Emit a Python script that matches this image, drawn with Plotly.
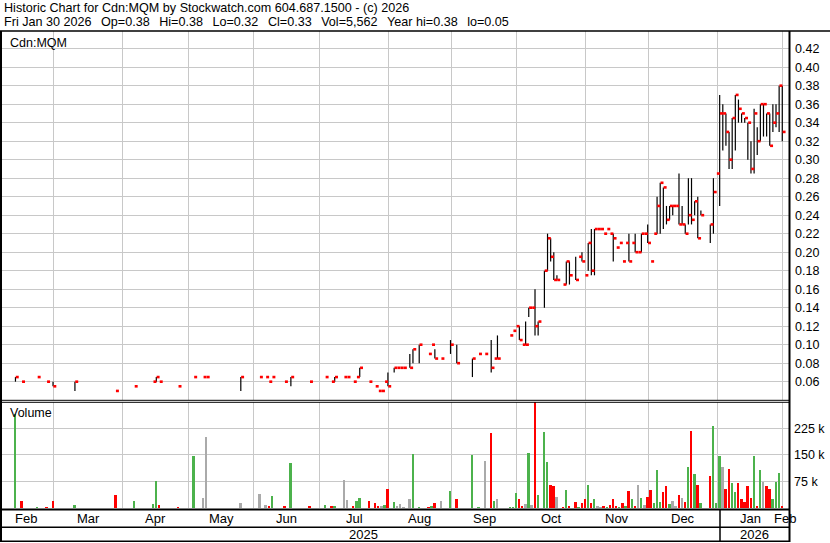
import numpy as np
import plotly.graph_objects as go

# ---------------- data ----------------
dates = [
    "2025-02-10", "2025-02-12", "2025-02-20", "2025-02-25", "2025-02-27",
    "2025-03-10", "2025-03-27",
    "2025-04-04", "2025-04-14", "2025-04-15", "2025-04-16", "2025-04-25",
    "2025-05-02", "2025-05-07", "2025-05-08", "2025-05-26",
    "2025-06-03", "2025-06-05", "2025-06-06", "2025-06-09", "2025-06-13", "2025-06-17", "2025-06-25",
    "2025-07-03", "2025-07-07", "2025-07-08", "2025-07-11", "2025-07-14", "2025-07-16", "2025-07-17",
    "2025-07-18", "2025-07-23", "2025-07-25", "2025-07-28", "2025-07-29", "2025-07-30", "2025-07-31",
    "2025-08-05", "2025-08-06", "2025-08-07", "2025-08-08", "2025-08-12", "2025-08-13", "2025-08-15",
    "2025-08-20", "2025-08-21", "2025-08-22", "2025-08-26", "2025-08-29",
    "2025-09-03", "2025-09-10", "2025-09-12", "2025-09-16", "2025-09-18", "2025-09-19", "2025-09-22",
    "2025-09-26", "2025-09-29", "2025-09-30",
    "2025-10-01", "2025-10-02", "2025-10-03", "2025-10-06", "2025-10-07", "2025-10-08", "2025-10-09",
    "2025-10-14", "2025-10-15", "2025-10-16", "2025-10-17", "2025-10-20", "2025-10-22", "2025-10-23",
    "2025-10-24", "2025-10-28", "2025-10-29", "2025-10-30", "2025-10-31",
    "2025-11-03", "2025-11-04", "2025-11-05", "2025-11-06", "2025-11-07", "2025-11-10", "2025-11-11",
    "2025-11-12", "2025-11-13", "2025-11-14", "2025-11-17", "2025-11-18", "2025-11-19", "2025-11-20",
    "2025-11-21", "2025-11-24", "2025-11-25", "2025-11-26", "2025-11-27", "2025-11-28",
    "2025-12-01", "2025-12-02", "2025-12-03", "2025-12-04", "2025-12-05", "2025-12-08", "2025-12-09",
    "2025-12-10", "2025-12-11", "2025-12-12", "2025-12-15", "2025-12-16", "2025-12-17", "2025-12-18",
    "2025-12-19", "2025-12-22", "2025-12-23", "2025-12-29", "2025-12-30", "2025-12-31",
    "2026-01-02", "2026-01-05", "2026-01-06", "2026-01-07", "2026-01-08", "2026-01-09", "2026-01-12",
    "2026-01-13", "2026-01-14", "2026-01-15", "2026-01-16", "2026-01-19", "2026-01-20", "2026-01-21",
    "2026-01-22", "2026-01-23", "2026-01-26", "2026-01-27", "2026-01-28", "2026-01-29", "2026-01-30",
]

high = [
    0.065, 0.06, 0.065, 0.06, 0.06,
    0.06, 0.05,
    0.055, 0.06, 0.065, 0.06, 0.055,
    0.065, 0.065, 0.065, 0.065,
    0.065, 0.065, 0.06, 0.065, 0.06, 0.065, 0.06,
    0.065, 0.06, 0.065, 0.065, 0.065, 0.06, 0.065,
    0.075, 0.06, 0.055, 0.05, 0.05, 0.06, 0.07,
    0.075, 0.075, 0.075, 0.075, 0.09, 0.095, 0.10,
    0.09, 0.10, 0.095, 0.085, 0.105,
    0.10, 0.085, 0.09, 0.09, 0.105, 0.085, 0.11,
    0.11, 0.115, 0.12,
    0.12, 0.10, 0.125, 0.14, 0.14, 0.16, 0.125,
    0.18, 0.22, 0.215, 0.20, 0.175, 0.165, 0.19,
    0.19, 0.195, 0.195, 0.20, 0.175,
    0.21, 0.225, 0.225, 0.225, 0.225, 0.22, 0.225,
    0.22, 0.22, 0.205, 0.21, 0.19, 0.21, 0.22,
    0.21, 0.22, 0.20, 0.22, 0.22, 0.23,
    0.19, 0.22, 0.26, 0.275, 0.27, 0.25, 0.25,
    0.25, 0.25, 0.285, 0.25, 0.23, 0.28, 0.28,
    0.255, 0.26, 0.245, 0.23, 0.28, 0.285,
    0.37, 0.36, 0.35, 0.33, 0.345, 0.37, 0.365,
    0.35, 0.345, 0.34, 0.32, 0.355, 0.335, 0.36,
    0.36, 0.35, 0.35, 0.36, 0.36, 0.38, 0.38,
]

low = [
    0.06, 0.06, 0.065, 0.06, 0.055,
    0.05, 0.05,
    0.055, 0.06, 0.06, 0.06, 0.055,
    0.065, 0.065, 0.065, 0.05,
    0.065, 0.065, 0.06, 0.065, 0.06, 0.055, 0.06,
    0.065, 0.06, 0.06, 0.065, 0.065, 0.06, 0.065,
    0.065, 0.06, 0.055, 0.05, 0.05, 0.06, 0.055,
    0.07, 0.075, 0.075, 0.075, 0.075, 0.08, 0.08,
    0.09, 0.10, 0.085, 0.085, 0.09,
    0.08, 0.065, 0.09, 0.09, 0.07, 0.085, 0.085,
    0.11, 0.115, 0.12,
    0.105, 0.10, 0.10, 0.13, 0.14, 0.11, 0.11,
    0.14, 0.18, 0.19, 0.17, 0.17, 0.165, 0.165,
    0.165, 0.17, 0.195, 0.19, 0.175,
    0.18, 0.175, 0.175, 0.225, 0.225, 0.22, 0.225,
    0.22, 0.19, 0.205, 0.21, 0.19, 0.21, 0.19,
    0.21, 0.20, 0.20, 0.20, 0.22, 0.21,
    0.19, 0.22, 0.22, 0.22, 0.225, 0.23, 0.235,
    0.24, 0.25, 0.23, 0.23, 0.22, 0.23, 0.23,
    0.24, 0.215, 0.24, 0.21, 0.22, 0.285,
    0.25, 0.31, 0.315, 0.29, 0.29, 0.31, 0.34,
    0.34, 0.34, 0.30, 0.285, 0.285, 0.305, 0.32,
    0.325, 0.325, 0.315, 0.33, 0.335, 0.33, 0.32,
]

close = [
    0.065, 0.06, 0.065, 0.06, 0.055,
    0.06, 0.05,
    0.055, 0.06, 0.065, 0.06, 0.055,
    0.065, 0.065, 0.065, 0.065,
    0.065, 0.065, 0.06, 0.065, 0.06, 0.065, 0.06,
    0.065, 0.06, 0.065, 0.065, 0.065, 0.06, 0.065,
    0.075, 0.06, 0.055, 0.05, 0.05, 0.06, 0.055,
    0.075, 0.075, 0.075, 0.075, 0.075, 0.095, 0.10,
    0.09, 0.10, 0.085, 0.085, 0.10,
    0.08, 0.085, 0.09, 0.09, 0.075, 0.085, 0.085,
    0.11, 0.115, 0.12,
    0.105, 0.10, 0.10, 0.14, 0.14, 0.12, 0.125,
    0.18, 0.215, 0.195, 0.17, 0.17, 0.165, 0.19,
    0.175, 0.17, 0.195, 0.19, 0.175,
    0.21, 0.18, 0.225, 0.225, 0.225, 0.22, 0.225,
    0.22, 0.215, 0.205, 0.21, 0.19, 0.21, 0.19,
    0.21, 0.20, 0.20, 0.22, 0.22, 0.21,
    0.19, 0.22, 0.25, 0.275, 0.27, 0.235, 0.25,
    0.25, 0.25, 0.23, 0.23, 0.22, 0.24, 0.235,
    0.255, 0.215, 0.24, 0.23, 0.265, 0.285,
    0.35, 0.35, 0.33, 0.30, 0.345, 0.37, 0.355,
    0.35, 0.345, 0.34, 0.29, 0.35, 0.32, 0.36,
    0.36, 0.35, 0.315, 0.34, 0.35, 0.38, 0.33,
]

volume = [
    265000, 20600, 2000, 2000, 20000,
    9400, 35600,
    20600, 12000, 77000, 9400, 2000,
    147000, 29000, 200000, 15000,
    40000, 9400, 3700, 34700, 3700, 127500, 3700,
    9400, 3700, 3700, 80000, 23000, 6500, 20600,
    29000, 20600, 15000, 3700, 3700, 9400, 54000,
    17800, 6500, 12000, 1000, 26000, 153000, 2800,
    2800, 5600, 15000, 20600, 48700,
    26000, 150000, 1000, 133000, 212000, 20600, 26000,
    1500, 1500, 41000,
    25000, 5000, 12500, 154000, 9600, 320000, 38000,
    214000, 131000, 64000, 61500, 30000, 2000, 50000,
    6700, 18000, 2000, 15000, 24000,
    64000, 15000, 24000, 6700, 2000, 4000, 2000,
    9600, 24000, 4000, 2000, 15000, 4000, 47000,
    24000, 6700, 64000, 27000, 9600, 30000,
    50000, 15000, 108000, 18000, 44000, 61500, 12500,
    21000, 4000, 38000, 27000, 18000, 116000, 217000,
    96000, 64000, 15000, 90000, 232000, 15000,
    148000, 116000, 53000, 110000, 70000, 44000, 70000,
    24000, 18000, 61500, 27000, 148000, 6700, 108000,
    73000, 61500, 53000, 24000, 73000, 99000, 5562,
]

close_before_first = 0.06
last_open = 0.38

price_ticks = [0.06, 0.08, 0.10, 0.12, 0.14, 0.16, 0.18, 0.20, 0.22, 0.24,
               0.26, 0.28, 0.30, 0.32, 0.34, 0.36, 0.38, 0.40, 0.42]
volume_ticks = [75000, 150000, 225000]
volume_tick_text = ["75 k", "150 k", "225 k"]

month_starts = ["2025-03-01", "2025-04-01", "2025-05-01", "2025-06-01", "2025-07-01",
                "2025-08-01", "2025-09-01", "2025-10-01", "2025-11-01", "2025-12-01",
                "2026-01-01", "2026-02-01"]
month_names = ["Feb", "Mar", "Apr", "May", "Jun", "Jul", "Aug", "Sep", "Oct", "Nov",
               "Dec", "Jan", "Feb"]

# exchange holidays (trading sessions only are plotted)
holidays = ["2025-02-17", "2025-04-18", "2025-05-19", "2025-07-01", "2025-08-04",
            "2025-09-01", "2025-10-13", "2025-12-25", "2026-01-01"]
session_origin = "2025-03-03"

# ---------------- derived ----------------
t = np.busday_count(session_origin, np.array(dates, dtype="datetime64[D]"),
                    holidays=holidays).astype(float)
first_sess = np.busday_count(session_origin, np.array(month_starts, dtype="datetime64[D]"),
                             holidays=holidays).astype(float)
bounds = first_sess - 0.8

X0, X1 = -18.3, 233.15
centers = [(X0 + bounds[0]) / 2 - 0.6] + [(bounds[i] + bounds[i + 1]) / 2 for i in range(len(bounds) - 1)] + [bounds[-1] + 0.6]

RED, GREEN, GRAY = "#ff0000", "#4cb24c", "#aaaaaa"
prev = [close_before_first] + close[:-1]
vcolors = [GREEN if c > p else (RED if c < p else GRAY) for c, p in zip(close, prev)]

# pixel layout helpers
W, H = 830, 543
L, R, T, B = 2, 789, 31, 508


def xp(px):
    return (px - L) / (R - L)


def yp(py):
    return (B - py) / (B - T)


FONT = "Liberation Sans, Arial, sans-serif"
GRID = "#c8c8c8"

fig = go.Figure()

# hi-lo lines
vx, vy = [], []
for ti, h, lo in zip(t, high, low):
    if h > lo:
        vx += [ti, ti, None]
        vy += [lo, h, None]
fig.add_trace(go.Scatter(x=vx, y=vy, mode="lines", line=dict(color="black", width=1.2),
                         hoverinfo="skip", xaxis="x", yaxis="y"))
# close ticks
cx, cy = [], []
for ti, c in zip(t, close):
    cx += [ti + 0.1, ti + 1.05, None]
    cy += [c, c, None]
fig.add_trace(go.Scatter(x=cx, y=cy, mode="lines", line=dict(color=RED, width=2.6),
                         hoverinfo="skip", xaxis="x", yaxis="y"))
# volume
fig.add_trace(go.Bar(x=t, y=volume, width=0.6, marker=dict(color=vcolors, line=dict(width=0)),
                     xaxis="x2", yaxis="y2"))

axis_common = dict(showgrid=True, gridcolor=GRID, gridwidth=1, zeroline=False,
                   showline=False, ticks="", fixedrange=True)

fig.update_layout(
    width=W, height=H,
    margin=dict(l=L, r=W - R, t=T, b=H - B, pad=0, autoexpand=False),
    paper_bgcolor="white", plot_bgcolor="white",
    showlegend=False, bargap=0,
    font=dict(family=FONT, size=12, color="black"),
    xaxis=dict(domain=[0, 1], anchor="y", range=[X0, X1], tickvals=list(bounds),
               showticklabels=False, **axis_common),
    xaxis2=dict(domain=[0, 1], anchor="y2", range=[X0, X1], tickvals=list(bounds),
                showticklabels=False, matches="x", **axis_common),
    yaxis=dict(domain=[yp(400), 1], anchor="x", side="right", range=[0.0402, 0.4391],
               tickvals=price_ticks, ticktext=["%.2f" % v for v in price_ticks],
               tickfont=dict(size=12.5), ticklabelstandoff=5, **axis_common),
    yaxis2=dict(domain=[0, yp(402)], anchor="x2", side="right", range=[0, 299000],
                tickvals=volume_ticks, ticktext=volume_tick_text,
                tickfont=dict(size=12.5), ticklabelstandoff=4, **axis_common),
)

# frame lines
def hline(y, x0, x1, w):
    fig.add_shape(type="line", xref="paper", yref="paper", x0=xp(x0), x1=xp(x1),
                  y0=yp(y), y1=yp(y), line=dict(color="black", width=w), layer="above")


def vline(x, y0, y1, w):
    fig.add_shape(type="line", xref="paper", yref="paper", x0=xp(x), x1=xp(x),
                  y0=yp(y0), y1=yp(y1), line=dict(color="black", width=w), layer="above")


hline(31, 0, 830, 1.5)
hline(400.3, 0, 789, 1)
hline(402.3, 0, 789, 1)
hline(509.5, 0, 789, 2)
hline(527.3, 0, 789, 1.5)
hline(541.3, 0, 789, 1.5)
vline(1, 31, 542, 2)
vline(789.5, 31, 542, 2)
vline(720, 509.5, 542, 1.5)

ann = []
sp = "\u00a0\u00a0\u2009"
header1 = "Historic Chart for Cdn:MQM by Stockwatch.com 604.687.1500 - (c) 2026"
header2 = ("Fri Jan 30 2026" + sp + "Op=%.2f" % last_open + sp + "Hi=%.2f" % high[-1] + sp +
           "Lo=%.2f" % low[-1] + sp + "Cl=%.2f" % close[-1] + sp + "Vol={:,}".format(volume[-1]) +
           sp + "Year hi=%.2f" % max(high) + sp + "lo=%.2f" % min(low))
for txt, y in [(header1, 7.8), (header2, 21.6)]:
    ann.append(dict(text=txt, xref="paper", yref="paper", x=xp(2.5), y=yp(y),
                    xanchor="left", yanchor="middle", showarrow=False, borderpad=0,
                    font=dict(size=12.6)))
ann.append(dict(text="Cdn:MQM", xref="paper", yref="paper", x=xp(8), y=yp(42.5),
                xanchor="left", yanchor="middle", showarrow=False, font=dict(size=12.5)))
ann.append(dict(text="Volume", xref="paper", yref="paper", x=xp(8), y=yp(413),
                xanchor="left", yanchor="middle", showarrow=False, font=dict(size=12.5)))
for name, cx_ in zip(month_names, centers):
    ann.append(dict(text=name, xref="x", yref="paper", x=cx_, y=yp(518.5),
                    xanchor="center", yanchor="middle", showarrow=False, font=dict(size=13)))
ann.append(dict(text="2025", xref="paper", yref="paper", x=xp(363), y=yp(534.5),
                xanchor="center", yanchor="middle", showarrow=False, font=dict(size=13)))
ann.append(dict(text="2026", xref="paper", yref="paper", x=xp(754), y=yp(534.5),
                xanchor="center", yanchor="middle", showarrow=False, font=dict(size=13)))
fig.update_layout(annotations=ann)

fig.write_html("out.html", config={"displayModeBar": False},
               post_script="document.body.style.margin='0';document.body.style.overflow='hidden';")
